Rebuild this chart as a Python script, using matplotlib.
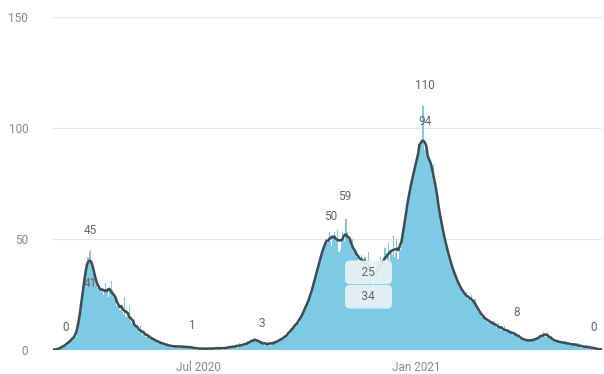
"""
Daily cases with 7-day average (bars + line)
"""

import matplotlib.pyplot as plt
import matplotlib.dates as mdates
import numpy as np
import pandas as pd

# daily values, one row per week, starting 2020-03-01
start_date = "2020-03-01"
daily = [
    0, 0, 0, 1, 0, 1, 1,
    1, 2, 2, 3, 2, 3, 4,
    4, 5, 5, 6, 7, 6, 8,
    10, 14, 20, 25, 30, 33, 36,
    38, 42, 44, 45, 40, 37, 35,
    32, 30, 28, 29, 27, 26, 28,
    25, 26, 30, 27, 24, 28, 26,
    31, 27, 24, 22, 20, 23, 21,
    18, 20, 17, 16, 24, 15, 16,
    14, 20, 13, 12, 12, 14, 11,
    10, 9, 8, 11, 8, 7, 9,
    8, 6, 7, 6, 5, 7, 5,
    5, 4, 5, 4, 3, 4, 4,
    3, 3, 2, 3, 2, 3, 2,
    2, 2, 1, 2, 2, 1, 2,
    2, 1, 2, 1, 2, 2, 1,
    1, 2, 1, 1, 2, 1, 1,
    1, 1, 0, 1, 1, 1, 0,
    1, 0, 1, 1, 0, 1, 1,
    0, 1, 1, 0, 1, 1, 1,
    1, 1, 1, 0, 1, 1, 1,
    1, 2, 1, 1, 2, 1, 2,
    2, 1, 2, 3, 2, 2, 2,
    3, 2, 3, 4, 3, 3, 4,
    5, 4, 6, 4, 5, 4, 3,
    3, 4, 3, 2, 3, 3, 3,
    3, 2, 3, 4, 3, 3, 3,
    4, 5, 4, 5, 6, 5, 5,
    6, 7, 8, 7, 9, 10, 9,
    10, 12, 11, 13, 14, 12, 15,
    16, 18, 17, 20, 22, 21, 23,
    24, 26, 29, 31, 33, 35, 36,
    38, 40, 44, 46, 45, 48, 50,
    48, 51, 53, 49, 47, 52, 53,
    52, 50, 54, 44, 45, 48, 53,
    52, 49, 59, 53, 50, 48, 47,
    50, 46, 45, 44, 42, 43, 40,
    41, 43, 38, 40, 42, 37, 39,
    44, 34, 33, 38, 25, 35, 34,
    36, 40, 33, 42, 38, 37, 41,
    46, 39, 42, 48, 40, 45, 43,
    52, 42, 44, 50, 41, 46, 45,
    47, 50, 55, 60, 64, 68, 70,
    72, 74, 76, 80, 83, 85, 86,
    88, 90, 93, 95, 110, 90, 92,
    90, 88, 86, 85, 82, 80, 84,
    78, 72, 68, 66, 62, 58, 56,
    54, 52, 48, 47, 44, 42, 40,
    39, 38, 35, 34, 32, 31, 30,
    30, 28, 27, 26, 25, 24, 26,
    23, 24, 22, 25, 22, 21, 23,
    20, 19, 17, 18, 16, 15, 16,
    14, 15, 13, 12, 14, 13, 12,
    12, 13, 11, 10, 11, 12, 10,
    9, 10, 9, 11, 8, 9, 8,
    8, 9, 8, 7, 7, 8, 7,
    6, 7, 5, 6, 5, 5, 4,
    4, 5, 4, 5, 4, 4, 5,
    4, 5, 5, 6, 5, 6, 6,
    7, 8, 7, 6, 8, 7, 6,
    5, 5, 4, 5, 4, 4, 4,
    4, 3, 4, 3, 3, 4, 3,
    3, 3, 2, 3, 3, 2, 3,
    2, 2, 3, 2, 2, 1, 2,
    2, 1, 2, 1, 1, 2, 1,
    1, 1, 1, 0, 1, 1, 0,
    0, 0,
]

# data labels shown on the chart: text, date
label_text = ["0", "45", "41", "1", "3", "50", "59", "25", "34", "110", "94", "8", "0"]
label_dates = ["2020-03-11", "2020-04-01", "2020-04-01", "2020-06-26", "2020-08-24",
               "2020-10-21", "2020-11-02", "2020-11-22", "2020-11-22", "2021-01-09",
               "2021-01-09", "2021-03-27", "2021-05-31"]
# vertical placement of each label (in axis units)
label_y = [10, 54, 30, 11, 12, 60, 69, 35, 24, 119, 103, 17, 10]
label_boxed = [False, False, False, False, False, False, False, True, True,
               False, False, False, False]

dates = pd.date_range(start_date, periods=len(daily), freq="D")
s = pd.Series(daily, index=dates, dtype=float)
avg = s.rolling(7, center=True, min_periods=1).mean()

fig = plt.figure(figsize=(6.04, 3.74), dpi=100)
ax = fig.add_axes([0.088, 0.064, 0.909, 0.8905])

bar_color = "#7CCAE3"
line_color = "#3E4C53"
text_color = "#8a8a8a"

ax.bar(dates, s.values, width=1.0, color=bar_color, linewidth=0, zorder=2)
ax.plot(dates, avg.values, color=line_color, linewidth=1.8, zorder=3)

for t, d, y, boxed in zip(label_text, label_dates, label_y, label_boxed):
    kw = {}
    if boxed:
        kw["bbox"] = dict(boxstyle="round,pad=0.45,rounding_size=0.4",
                          fc="#e9f3f6", ec="none", alpha=0.92)
        t = "    " + t + "    "
    ax.text(pd.Timestamp(d), y, t, ha="center", va="center", fontsize=8.5,
            color="#666666", zorder=5, family="Roboto", **kw)

ax.set_ylim(0, 150)
ax.set_xlim(dates[0] - pd.Timedelta(days=0.5), dates[-1] + pd.Timedelta(days=0.5))
ax.set_yticks([0, 50, 100, 150])
ax.set_xticks([pd.Timestamp("2020-07-01"), pd.Timestamp("2021-01-01")])
ax.xaxis.set_major_formatter(mdates.DateFormatter("%b %Y"))

ax.grid(axis="y", color="#e6e6e6", linewidth=0.8, zorder=0)
ax.set_axisbelow(True)
for sp in ax.spines.values():
    sp.set_visible(False)
ax.tick_params(axis="both", length=0, labelsize=8.5, labelcolor=text_color)
ax.tick_params(axis="y", pad=18)
ax.tick_params(axis="x", pad=8)
for lab in ax.get_xticklabels() + ax.get_yticklabels():
    lab.set_family("Roboto")

fig.savefig("out.png", dpi=100)
